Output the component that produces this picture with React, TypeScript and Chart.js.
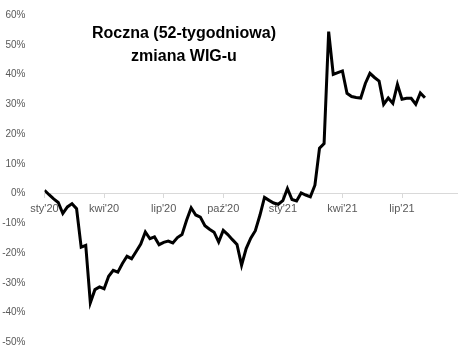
import React, { useEffect, useRef } from "react";
import { Chart, registerables } from "chart.js";

Chart.register(...registerables);

// 52-week change of WIG index, weekly, starting first week of Jan 2020 (%)
const weeklyChange = [
  1.1, -0.4, -1.8, -3.0, -6.7, -4.5, -3.4, -5.1, -18.0, -17.4,
  -36.7, -32.3, -31.4, -32.0, -27.8, -25.8, -26.4, -23.5, -21.1, -21.9,
  -19.5, -17.0, -12.9, -15.2, -14.6, -17.2, -16.4, -16.0, -16.6, -14.8,
  -13.8, -9.0, -4.8, -7.2, -7.9, -10.8, -12.0, -13.0, -16.3, -12.4,
  -13.8, -15.5, -17.1, -24.1, -18.5, -15.0, -12.5, -7.3, -1.3, -2.3,
  -3.2, -3.6, -2.4, 1.7, -2.0, -2.5, 0.2, -0.5, -1.1, 2.8,
  15.2, 16.8, 54.4, 40.0, 40.6, 41.2, 33.7, 32.6, 32.3, 32.1,
  37.0, 40.4, 39.0, 37.8, 30.0, 32.1, 30.3, 36.7, 31.7, 32.0,
  32.0, 30.0, 33.8, 32.2,
];

const tickWeeks = [0, 13, 26, 39, 52, 65, 78];
const tickLabels = ["sty'20", "kwi'20", "lip'20", "paź'20", "sty'21", "kwi'21", "lip'21"];
const titleLines = ["Roczna (52-tygodniowa)", "zmiana WIG-u"];

const FONT = '"Liberation Sans", Arial, sans-serif';

export default function App() {
  const ref = useRef<HTMLCanvasElement>(null);

  useEffect(() => {
    if (!ref.current) return;
    const titlePlugin = {
      id: "titleText",
      afterDraw(chart: any) {
        const ctx = chart.ctx;
        ctx.save();
        ctx.font = `bold 16px ${FONT}`;
        ctx.fillStyle = "#000";
        ctx.textAlign = "center";
        ctx.textBaseline = "alphabetic";
        ctx.fillText(titleLines[0], 184, 38);
        ctx.fillText(titleLines[1], 184, 61);
        ctx.restore();
      },
    };
    const chart = new Chart(ref.current, {
      type: "line",
      data: {
        datasets: [
          {
            data: weeklyChange.map((v, i) => ({ x: i, y: v })),
            borderColor: "#000000",
            borderWidth: 3,
            pointRadius: 0,
            tension: 0,
            fill: false,
          },
        ],
      },
      options: {
        animation: false,
        responsive: false,
        layout: { padding: { left: 0, right: 15, top: 15, bottom: 15.7 } },
        plugins: { legend: { display: false }, tooltip: { enabled: false } },
        scales: {
          x: {
            type: "linear",
            min: 0,
            max: 90,
            position: { y: 0 },
            afterFit: (s: any) => {
              s.height = 0;
              s.paddingTop = 0;
              s.paddingBottom = 0;
            },
            afterBuildTicks: (s: any) => {
              s.ticks = tickWeeks.map((v) => ({ value: v }));
            },
            ticks: {
              autoSkip: false,
              maxRotation: 0,
              padding: 5,
              color: "#595959",
              font: { family: FONT, size: 11 },
              callback: (v: any) => {
                const idx = tickWeeks.indexOf(Number(v));
                return idx >= 0 ? tickLabels[idx] : "";
              },
            },
            grid: { drawOnChartArea: false, drawTicks: true, tickLength: 4, color: "#d9d9d9" },
            border: { display: true, color: "#d9d9d9", width: 1 },
          },
          y: {
            min: -50,
            max: 60,
            afterFit: (s: any) => {
              s.width = 44.5;
              s.paddingTop = 0;
              s.paddingBottom = 0;
            },
            ticks: {
              stepSize: 10,
              padding: 11,
              color: "#595959",
              font: { family: FONT, size: 10 },
              callback: (v: any) => `${v}%`,
            },
            grid: { display: false },
            border: { display: false },
          },
        },
      },
      plugins: [titlePlugin],
    } as any);
    return () => chart.destroy();
  }, []);

  return (
    <div style={{ position: "fixed", left: 0, top: 0, width: 472, height: 358, background: "#ffffff" }}>
      <canvas ref={ref} width={472} height={358} style={{ display: "block", width: 472, height: 358 }} />
    </div>
  );
}
